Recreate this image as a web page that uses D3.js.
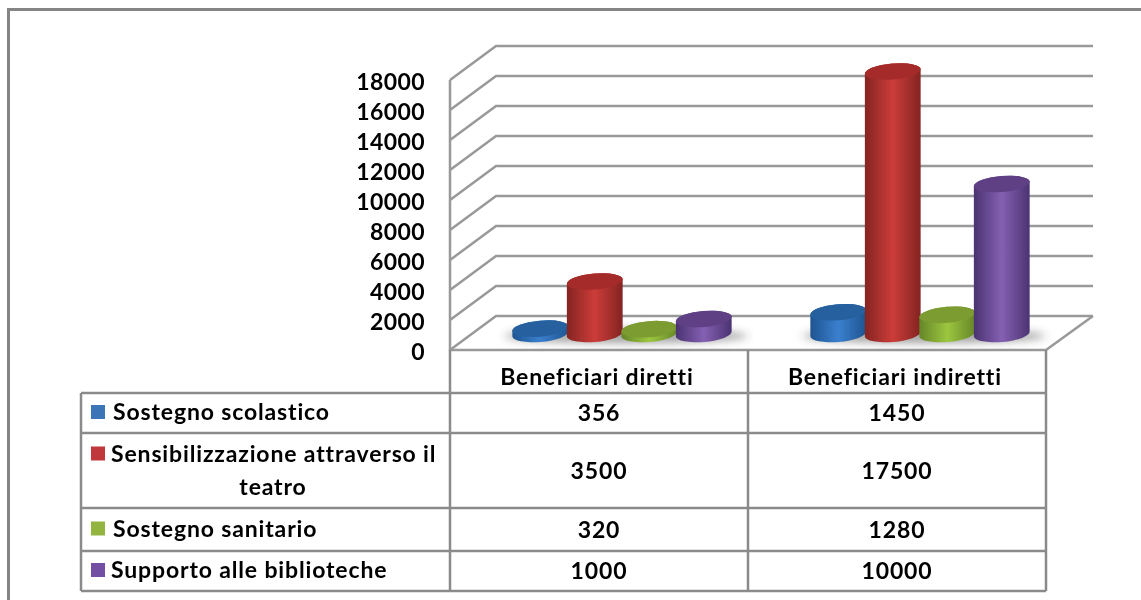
<!DOCTYPE html>
<html>
<head>
<meta charset="utf-8">
<script src="https://cdn.jsdelivr.net/npm/d3@7"></script>
<style>
  html, body { margin: 0; padding: 0; background: #fff; overflow: hidden; }
  text { font-family: Lato, "Open Sans", sans-serif; font-weight: 700; fill: #000; letter-spacing: 0.85px; }
</style>
</head>
<body>
<div id="chart"></div>
<script>
const categories = ["Beneficiari diretti", "Beneficiari indiretti"];
const seriesNames = ["Sostegno scolastico", "Sensibilizzazione attraverso il teatro", "Sostegno sanitario", "Supporto alle biblioteche"];
const sostegnoScolastico = [356, 1450];
const sensibilizzazione = [3500, 17500];
const sostegnoSanitario = [320, 1280];
const supportoBiblioteche = [1000, 10000];
const tickValues = [0, 2000, 4000, 6000, 8000, 10000, 12000, 14000, 16000, 18000];
const seriesValues = [sostegnoScolastico, sensibilizzazione, sostegnoSanitario, supportoBiblioteche];

// side colours: edge, centre, edge; then top ellipse and legend colour
const sideColors = [["#1f5490", "#3a80cf", "#1f5490"], ["#842422", "#cc3c39", "#842422"], ["#668628", "#9cc63f", "#668628"], ["#4b3372", "#8460b2", "#4b3372"]];
const topColors = ["#25619f", "#a52c29", "#7b9c33", "#5f4085"];
const legendColors = ["#3a75b8", "#c0383a", "#93b53f", "#7350a3"];

const width = 1141, height = 600;
const gridColor = "#999", lineColor = "#8a8a8a";
const fontSize = 23;

const svg = d3.select("#chart").append("svg")
    .attr("width", width)
    .attr("height", height)
    .style("display", "block");

const defs = svg.append("defs");
defs.append("filter").attr("id", "soft").attr("x", "-5%").attr("y", "-5%").attr("width", "110%").attr("height", "110%")
  .append("feGaussianBlur").attr("stdDeviation", 0.5);
defs.append("filter").attr("id", "shadow").attr("x", "-20%").attr("y", "-100%").attr("width", "140%").attr("height", "300%")
  .append("feGaussianBlur").attr("stdDeviation", 4);

sideColors.forEach((c, i) => {
  const grad = defs.append("linearGradient").attr("id", "side" + i);
  grad.selectAll("stop").data([0, 0.5, 1]).join("stop")
    .attr("offset", d => d)
    .attr("stop-color", (d, j) => c[j]);
});

const root = svg.append("g").attr("filter", "url(#soft)");

// outer frame, only top and left are inside the picture
root.append("path")
    .attr("d", "M8.5,640V9.5H1180")
    .attr("fill", "none")
    .attr("stroke", "#858585").attr("stroke-width", 3);

// the three planes of the 3d box share one value scale, shifted by depth
const depthX = 46, depthY = 34;
const y = d3.scaleLinear().domain([0, 18000]).range([350, 80]);
const x = d3.scaleBand().domain(categories).range([450, 1046]);
const inner = d3.scaleBand().domain(seriesNames).range([-109, 109]);
const cylShiftX = 23, cylShiftY = 16;
const wallRight = 1093;

// grid lines: front left -> back left -> back right
root.append("g").selectAll("path")
  .data(tickValues)
  .join("path")
    .attr("d", d => {
      const p = d3.path();
      p.moveTo(450, y(d));
      p.lineTo(450 + depthX, y(d) - depthY);
      p.lineTo(wallRight, y(d) - depthY);
      return p.toString();
    })
    .attr("fill", "none")
    .attr("stroke", gridColor)
    .attr("stroke-width", 2.5);

// front axis line and floor edges
root.append("path")
    .attr("d", `M450,${y(18000)}V${y(0)}H1046L${wallRight},${y(0) - depthY}`)
    .attr("fill", "none")
    .attr("stroke", gridColor)
    .attr("stroke-width", 2.5);

// value axis labels
const axis = root.append("g")
    .attr("transform", "translate(450,2)")
    .call(d3.axisLeft(y).tickValues(tickValues).tickSize(0).tickPadding(25).tickFormat(d3.format("d")));
axis.select(".domain").remove();
axis.selectAll("text")
    .attr("font-size", fontSize)
    .style("font-family", "Lato, sans-serif")
    .style("letter-spacing", "0.4px");

// cylinders
const rx = 28, ry = 8, tilt = -5;
const cos = Math.cos(tilt * Math.PI / 180), sin = Math.sin(tilt * Math.PI / 180);

const cats = root.selectAll(".cat")
  .data(categories)
  .join("g")
    .attr("class", "cat")
    .attr("transform", d => `translate(${x(d) + x.bandwidth() / 2 + cylShiftX},0)`);

// blurred floor shadow under each cluster
cats.append("ellipse")
    .attr("cx", 4)
    .attr("cy", y(0) - cylShiftY + 2)
    .attr("rx", 122)
    .attr("ry", 7)
    .attr("fill", "#555")
    .attr("opacity", 0.55)
    .attr("filter", "url(#shadow)");

cats.each(function(cat, ci) {
  const g = d3.select(this);
  seriesNames.forEach((name, si) => {
    const cx = inner(name) + inner.bandwidth() / 2;
    const yBase = y(0) - cylShiftY;
    const yTop = y(seriesValues[si][ci]) - cylShiftY;
    const dx = rx * cos, dy = rx * sin;
    const d = `M${cx - dx},${yTop - dy}L${cx - dx},${yBase - dy}` +
      `A${rx},${ry} ${tilt} 0 0 ${cx + dx},${yBase + dy}` +
      `L${cx + dx},${yTop + dy}` +
      `A${rx},${ry} ${tilt} 0 0 ${cx - dx},${yTop - dy}Z`;
    g.append("path").attr("d", d).attr("fill", `url(#side${si})`);
    g.append("ellipse")
        .attr("rx", rx).attr("ry", ry)
        .attr("transform", `translate(${cx},${yTop}) rotate(${tilt})`)
        .attr("fill", topColors[si]);
  });
});

// data table
const rowEdges = [350, 393, 433, 508, 551, 591];
const table = root.append("g");
const tableLines = [
  `M450,350V591`, `M748,350V591`, `M1046,350V591`, `M81,393V591`,
  ...rowEdges.slice(1).map(r => `M81,${r}H1046`)
];
table.selectAll("path").data(tableLines).join("path")
    .attr("d", d => d)
    .attr("fill", "none")
    .attr("stroke", lineColor)
    .attr("stroke-width", 2.5);

table.selectAll(".head").data(categories).join("text")
    .attr("class", "head")
    .attr("x", d => x(d) + x.bandwidth() / 2 - 2)
    .attr("y", 385)
    .attr("text-anchor", "middle")
    .attr("font-size", fontSize)
    .text(d => d);

const rowMid = d3.range(4).map(i => (rowEdges[i + 1] + rowEdges[i + 2]) / 2);

seriesNames.forEach((name, si) => {
  categories.forEach((cat, ci) => {
    table.append("text")
        .attr("x", x(cat) + x.bandwidth() / 2)
        .attr("y", rowMid[si] + 8)
        .attr("text-anchor", "middle")
        .attr("font-size", fontSize)
        .text(seriesValues[si][ci]);
  });
});

// legend keys and labels inside the table
const legendLines = [["Sostegno scolastico"], ["Sensibilizzazione attraverso il", "teatro"], ["Sostegno sanitario"], ["Supporto alle biblioteche"]];
const legendTextX = [113, 111, 113, 111];
legendLines.forEach((lines, si) => {
  const firstY = lines.length > 1 ? rowMid[si] - 17 : rowMid[si] - 1;
  table.append("rect")
      .attr("x", 91).attr("y", firstY - 7)
      .attr("width", 14).attr("height", 14)
      .attr("fill", legendColors[si]);
  lines.forEach((line, li) => {
    const t = table.append("text")
        .attr("y", firstY + 8 + li * 33)
        .attr("font-size", fontSize)
        .text(line);
    if (li === 0) t.attr("x", legendTextX[si]);
    else t.attr("x", 273).attr("text-anchor", "middle");
  });
});
</script>
</body>
</html>
